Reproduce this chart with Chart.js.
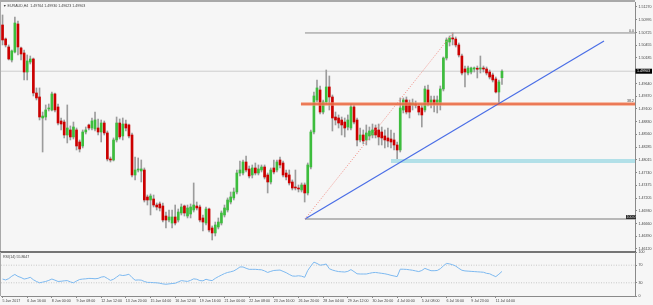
<!DOCTYPE html>
<html><head><meta charset="utf-8">
<script src="https://cdn.jsdelivr.net/npm/chart.js@4.4.1/dist/chart.umd.min.js"></script>
<style>
html,body{margin:0;padding:0;background:#f6f6f6;}
#wrap{position:relative;width:653px;height:305px;overflow:hidden;background:#f6f6f6;}
#main{position:absolute;left:0;top:0;width:653px;height:253px;}
#rsi{position:absolute;left:0;top:247px;width:653px;height:58px;}
</style></head><body>
<div id="wrap"><canvas id="main" width="653" height="253"></canvas><canvas id="rsi" width="653" height="58"></canvas></div>
<script>
// ---------- DATA (EURAUD, H4) ----------
const opens = [
1.50887,1.50589,1.50419,1.50142,1.50312,1.50908,1.50398,1.50291,1.49886,1.50099,
1.50163,1.49440,1.49355,1.48908,1.48929,1.49099,1.49078,1.49419,1.49142,1.48844,
1.48822,1.48546,1.48653,1.48504,1.48653,1.48397,1.48312,1.48610,1.48759,1.48695,
1.48674,1.48695,1.48610,1.48801,1.48589,1.48035,1.48014,1.48440,1.48801,1.48525,
1.48780,1.48759,1.48546,1.47695,1.47801,1.47780,1.47801,1.47227,1.47163,1.47184,
1.47056,1.47078,1.47035,1.46822,1.46737,1.46673,1.46801,1.46737,1.46886,1.47035,
1.46822,1.46865,1.46950,1.47035,1.47014,1.46780,1.46673,1.46971,1.46567,1.46461,
1.46588,1.46673,1.46844,1.46950,1.47120,1.47206,1.47333,1.47737,1.47737,1.47971,
1.47823,1.47695,1.47844,1.47737,1.47801,1.47865,1.47695,1.47546,1.47844,1.47801,
1.48014,1.47950,1.47737,1.47695,1.47546,1.47439,1.47418,1.47376,1.47482,1.47312,
1.47865,1.48610,1.49291,1.49504,1.49035,1.49248,1.49568,1.49355,1.48929,1.48908,
1.48865,1.48822,1.48716,1.48695,1.49142,1.48865,1.48440,1.48546,1.48440,1.48525,
1.48546,1.48695,1.48653,1.48610,1.48525,1.48483,1.48461,1.48440,1.48333,1.48227,
1.49078,1.49291,1.49227,1.49185,1.49185,1.49163,1.49121,1.49078,1.49504,1.49227,
1.49291,1.49206,1.49227,1.49525,1.50184,1.50525,1.50611,1.50589,1.50462,1.50227,
1.49951,1.49865,1.49886,1.49951,1.49951,1.49951,1.49956,1.49951,1.49886,1.49823,
1.49738,1.49461,1.49764];
const highs = [
1.51100,1.50611,1.50462,1.50355,1.51057,1.50972,1.50419,1.50355,1.50249,1.50227,
1.50184,1.49547,1.49547,1.49035,1.49185,1.49206,1.49461,1.49440,1.49206,1.48908,
1.48865,1.49185,1.48738,1.48822,1.48695,1.48440,1.48653,1.48716,1.48780,1.48908,
1.49035,1.48887,1.48865,1.48844,1.48631,1.48078,1.48483,1.48929,1.48887,1.48908,
1.48865,1.48780,1.48589,1.48078,1.48057,1.48014,1.47844,1.47269,1.47291,1.47269,
1.47099,1.47120,1.47099,1.46907,1.46950,1.46950,1.47056,1.46971,1.47078,1.47056,
1.47056,1.47078,1.47525,1.47120,1.47056,1.46844,1.47014,1.46993,1.46610,1.46694,
1.46780,1.46929,1.47056,1.47206,1.47333,1.47418,1.47801,1.47993,1.48014,1.48099,
1.47886,1.47908,1.47950,1.47908,1.47908,1.47908,1.47737,1.47844,1.48014,1.48014,
1.48078,1.47993,1.47801,1.47801,1.47589,1.47801,1.47482,1.47525,1.47525,1.47950,
1.48653,1.49461,1.49717,1.49589,1.49291,1.49929,1.49802,1.49397,1.49035,1.48972,
1.48929,1.48908,1.48972,1.49206,1.49185,1.48908,1.48695,1.48653,1.48759,1.48716,
1.48780,1.48759,1.48780,1.48716,1.48653,1.48695,1.48653,1.48589,1.48397,1.49334,
1.49334,1.49355,1.49291,1.49312,1.49270,1.49206,1.49185,1.49589,1.49610,1.49376,
1.49376,1.49376,1.49589,1.50206,1.50611,1.50653,1.50717,1.50632,1.50504,1.50270,
1.50014,1.50014,1.49993,1.49993,1.50014,1.50227,1.50014,1.49993,1.49929,1.49865,
1.49780,1.49717,1.49930];
const lows = [
1.50462,1.50419,1.50142,1.50099,1.50291,1.50249,1.50142,1.49717,1.49717,1.50057,
1.49376,1.49291,1.48865,1.48184,1.48865,1.49057,1.49057,1.49035,1.48759,1.48653,
1.48483,1.48376,1.48440,1.48461,1.48227,1.48184,1.48270,1.48568,1.48653,1.48653,
1.48631,1.48546,1.48397,1.48546,1.47993,1.47971,1.47993,1.48397,1.48461,1.48440,
1.48631,1.48483,1.47652,1.47589,1.47759,1.47546,1.47120,1.47056,1.46844,1.47014,
1.46950,1.46929,1.46694,1.46567,1.46694,1.46567,1.46631,1.46694,1.46844,1.46822,
1.46780,1.46780,1.46907,1.46950,1.46694,1.46503,1.46631,1.46482,1.46312,1.46397,
1.46546,1.46631,1.46801,1.46907,1.47078,1.47163,1.47291,1.47674,1.47695,1.47759,
1.47631,1.47631,1.47695,1.47695,1.47759,1.47610,1.47312,1.47503,1.47716,1.47759,
1.47844,1.47652,1.47589,1.47482,1.47376,1.47376,1.47333,1.47333,1.47120,1.47269,
1.47823,1.48568,1.49248,1.48993,1.48993,1.49206,1.49078,1.48631,1.48759,1.48695,
1.48546,1.48504,1.48653,1.48653,1.48780,1.48312,1.48397,1.48355,1.48333,1.48440,
1.48483,1.48483,1.48333,1.48333,1.48270,1.48291,1.48270,1.48227,1.47971,1.48184,
1.49014,1.48993,1.48908,1.49078,1.49121,1.48972,1.48716,1.49035,1.49163,1.49121,
1.49035,1.49014,1.49078,1.49483,1.50142,1.50440,1.50462,1.50419,1.50206,1.49823,
1.49568,1.49823,1.49844,1.49886,1.49759,1.49865,1.49886,1.49823,1.49738,1.49674,
1.49440,1.49227,1.49623];
const closes = [
1.50568,1.50462,1.50163,1.50334,1.50929,1.50419,1.50270,1.49886,1.50121,1.50163,
1.49440,1.49334,1.48929,1.48950,1.49078,1.49121,1.49419,1.49078,1.48801,1.48780,
1.48546,1.48695,1.48504,1.48716,1.48312,1.48248,1.48610,1.48653,1.48695,1.48844,
1.48865,1.48610,1.48801,1.48589,1.48035,1.48014,1.48440,1.48801,1.48504,1.48780,
1.48695,1.48525,1.47695,1.47801,1.47823,1.47823,1.47163,1.47163,1.47248,1.47056,
1.47014,1.46993,1.46737,1.46737,1.46801,1.46801,1.46673,1.46907,1.47014,1.46886,
1.46993,1.47014,1.47056,1.46993,1.46737,1.46694,1.46971,1.46525,1.46461,1.46631,
1.46694,1.46886,1.46993,1.47163,1.47227,1.47333,1.47737,1.47801,1.47971,1.47801,
1.47674,1.47844,1.47737,1.47823,1.47865,1.47652,1.47546,1.47801,1.47759,1.47971,
1.47908,1.47695,1.47652,1.47525,1.47418,1.47418,1.47397,1.47482,1.47312,1.47908,
1.48610,1.49376,1.49547,1.49035,1.49248,1.49568,1.49355,1.48908,1.48865,1.48801,
1.48759,1.48695,1.48865,1.49142,1.48822,1.48440,1.48546,1.48419,1.48589,1.48631,
1.48653,1.48546,1.48504,1.48483,1.48440,1.48419,1.48397,1.48333,1.48227,1.49121,
1.49291,1.49035,1.49035,1.49227,1.49180,1.49035,1.48972,1.49525,1.49227,1.49291,
1.49206,1.49291,1.49525,1.50184,1.50568,1.50611,1.50589,1.50462,1.50249,1.49865,
1.49886,1.49972,1.49972,1.49955,1.49946,1.49956,1.49950,1.49865,1.49780,1.49717,
1.49461,1.49674,1.49903];
const rsiValues = [
38.5,36.5,39.5,45,49,44.5,42,38.5,40,42.5,
37,33,30,31.5,33,35.5,38.6,36,33,33.5,
34.5,35,32,30,34,37.5,38.5,39,40,39.8,
39.2,40,43,44,40,35.5,38,43,48,46.5,
47.5,49.5,42,36,36.5,36,33,31,30.8,30.3,
30,29,27.5,26.7,27.5,28.3,29,32,35,34,
33.2,35.5,39,38,35,34.5,38,36,35,40,
44,47.5,51,53.5,55,57,61,66,66,63,
60.6,60.6,60.6,60,59.5,57,53.5,56,58,58.5,
59,56,53,49,45.5,45,46,45,42.5,58,
68,77,74,70,71,72.7,62,59,57,55.5,
55,54.5,56,60,55.5,50.5,50,50,50,51.5,
53,53.5,52.5,51.5,50.5,49,47,45.5,44,61,
60.8,60.5,59.5,58.5,57,55.5,58,62.8,60,57.5,
57.5,58,62,68.5,74,73,71,68,63,58.5,
57,56.5,56,55.5,55,54.5,54,51.5,50.5,47,
44,49.5,55.86];
const timeTickIdx = [0,8,16,24,32,40,48,56,64,72,80,88,96,104,112,120,128,136,144,152,160];
const timeLabels = ["5 Jun 2017","6 Jun 16:00","8 Jun 00:00","9 Jun 08:00","12 Jun 12:00","13 Jun 20:00",
  "15 Jun 04:00","16 Jun 12:00","19 Jun 16:00","21 Jun 00:00","22 Jun 08:00","23 Jun 16:00",
  "26 Jun 20:00","28 Jun 04:00","29 Jun 12:00","30 Jun 20:00","4 Jul 00:00","5 Jul 08:00",
  "6 Jul 16:00","9 Jul 23:00","11 Jul 04:00"];
const priceTicks = [1.51270,1.50995,1.50725,1.50455,1.50185,1.49640,1.49370,1.49100,1.48830,1.48560,
  1.48285,1.48015,1.47740,1.47475,1.47205,1.46930,1.46660,1.46390,1.46120];
const rsiTicks = [0,30,70,100];
const rsiLevels = [30,70];
// drawn objects (bar index / price)
const fibLevels = [1.50717, 1.49205, 1.46758];   // 0.0, 38.2, 100.0
const fibStartIdx = 98.1;
const fib382StartIdx = 96.8;
const supportLevel = 1.47993;
const supportStartIdx = 126.0;
const trendFrom = {x: 98.1, y: 1.46758};
const trendTo = {x: 195.1, y: 1.50546};
const fibDiagTo = {x: 146.1, y: 1.50717};
const titleText = "\u25BC EURAUD,H4  1.49764 1.49930 1.49623 1.49903";
const rsiTitle = "RSI(14) 55.8647";

// ---------- RENDER ----------
const FONT = "'Liberation Sans', Arial, sans-serif";
const TXT = '#404040';
const X_MIN = -0.5, X_MAX = 205.15;
const Y_MIN = 1.46056, Y_MAX = 1.51376;
const last = closes.length - 1;
const idx = opens.map((_, i) => i);
const bodyColors = idx.map(i => closes[i] >= opens[i] ? '#3dbd3d' : '#cc0000');

function seg(a, b, extra) {
  return Object.assign({type:'line', data:[a,b], pointRadius:0, borderWidth:1, fill:false, tension:0}, extra);
}

const mainDecor = {
  id:'mainDecor',
  afterDraw(chart){
    const {ctx, chartArea:a, scales:{y}} = chart;
    ctx.save();
    ctx.strokeStyle='#a9a9a9'; ctx.lineWidth=2;
    ctx.beginPath(); ctx.moveTo(0,1); ctx.lineTo(a.right,1); ctx.stroke();
    ctx.lineWidth=1;
    ctx.beginPath(); ctx.moveTo(0.5,0); ctx.lineTo(0.5,a.bottom); ctx.stroke();
    ctx.strokeStyle='#4a4a4a'; ctx.lineWidth=1.5;
    ctx.beginPath(); ctx.moveTo(0,a.bottom); ctx.lineTo(a.right+1,a.bottom); ctx.stroke();
    ctx.font = '3.6px ' + FONT; ctx.fillStyle = TXT;
    ctx.textBaseline='middle'; ctx.textAlign='left';
    ctx.fillText(titleText, 3, 5.5);
    ctx.textAlign='right'; ctx.textBaseline='bottom';
    ctx.fillText('0.0', a.right-1, y.getPixelForValue(fibLevels[0]) - 0.3);
    ctx.fillText('38.2', a.right-1, y.getPixelForValue(fibLevels[1]) - 1.3);
    const y100 = y.getPixelForValue(fibLevels[2]);
    ctx.fillStyle='#2e2e2e'; ctx.fillRect(a.right-9, y100-4, 10, 4);
    ctx.fillStyle='#d0d0d0'; ctx.textBaseline='middle'; ctx.textAlign='center';
    ctx.fillText('100.0', a.right-4, y100-2);
    const yp = y.getPixelForValue(closes[last]);
    ctx.fillStyle='#000'; ctx.fillRect(a.right+0.5, yp-2.5, 16.5, 5);
    ctx.fillStyle='#fff'; ctx.textAlign='left';
    ctx.fillText(closes[last].toFixed(5), a.right+2, yp);
    ctx.restore();
  }
};

new Chart(document.getElementById('main'), {
  type:'bar',
  data:{ datasets:[
    {type:'bar', data: idx.map(i => ({x:i, y:[opens[i], closes[i]]})), backgroundColor: bodyColors,
      barThickness:2, minBarLength:1, grouped:false, borderWidth:0, order:2},
    {type:'bar', data: idx.map(i => ({x:i, y:[lows[i], highs[i]]})), backgroundColor:'#9c9c9c',
      barThickness:1, grouped:false, borderWidth:0, order:3},
    seg({x:X_MIN, y:closes[last]}, {x:X_MAX, y:closes[last]}, {borderColor:'#cdcdcd', order:4}),
    seg({x:fibStartIdx, y:fibLevels[0]}, {x:X_MAX, y:fibLevels[0]}, {borderColor:'#8a8a8a', order:1}),
    seg({x:fibStartIdx, y:fibLevels[2]}, {x:X_MAX, y:fibLevels[2]}, {borderColor:'#7a7a7a', order:1}),
    seg({x:fib382StartIdx, y:fibLevels[1]}, {x:X_MAX, y:fibLevels[1]}, {borderColor:'rgba(246,150,115,0.8)', borderWidth:3.6, order:1}),
    seg({x:fib382StartIdx, y:fibLevels[1]}, {x:X_MAX, y:fibLevels[1]}, {borderColor:'#e04a22', borderWidth:1, order:0}),
    seg({x:supportStartIdx, y:supportLevel}, {x:X_MAX, y:supportLevel}, {borderColor:'#b2e0e8', borderWidth:4, order:1}),
    seg(trendFrom, fibDiagTo, {borderColor:'#f08a80', borderDash:[1,1.6], order:0}),
    seg(trendFrom, trendTo, {borderColor:'#4a6ee6', borderWidth:1.2, order:0})
  ]},
  options:{
    responsive:false, animation:false, devicePixelRatio:1,
    layout:{padding:{left:1, top:2, right:0, bottom:1}},
    plugins:{legend:{display:false}, tooltip:{enabled:false}},
    scales:{
      x:{type:'linear', min:X_MIN, max:X_MAX, display:false, offset:false},
      y:{type:'linear', position:'right', min:Y_MIN, max:Y_MAX,
        afterBuildTicks: s => { s.ticks = priceTicks.map(v => ({value:v})); },
        afterFit: s => { s.width = 18; s.paddingTop = 0; s.paddingBottom = 0; },
        ticks:{autoSkip:false, padding:1.5, color:TXT, font:{family:FONT, size:3.6}, callback: v => Number(v).toFixed(5)},
        grid:{drawOnChartArea:false, tickLength:2, color:'#8a8a8a'},
        border:{color:'#8a8a8a', width:1}
      }
    }
  },
  plugins:[mainDecor]
});

const rsiDecor = {
  id:'rsiDecor',
  beforeDatasetsDraw(chart){
    const {ctx, chartArea:a, scales:{y}} = chart;
    ctx.save();
    ctx.strokeStyle='#bdbdbd'; ctx.lineWidth=0.8; ctx.setLineDash([1,1.5]);
    rsiLevels.forEach(v => {
      const py = y.getPixelForValue(v);
      ctx.beginPath(); ctx.moveTo(a.left, py); ctx.lineTo(a.right, py); ctx.stroke();
    });
    ctx.restore();
  },
  afterDraw(chart){
    const {ctx, chartArea:a} = chart;
    ctx.save();
    ctx.strokeStyle='#a9a9a9'; ctx.lineWidth=1;
    ctx.beginPath(); ctx.moveTo(0.5,a.top); ctx.lineTo(0.5,a.bottom); ctx.stroke();
    ctx.font='3.6px ' + FONT; ctx.fillStyle=TXT; ctx.textAlign='left'; ctx.textBaseline='middle';
    ctx.fillText(rsiTitle, 3, a.top + 4.5);
    ctx.restore();
  }
};

new Chart(document.getElementById('rsi'), {
  type:'line',
  data:{ datasets:[{ data: idx.map(i => ({x:i, y:rsiValues[i]})), borderColor:'#7db9f0', borderWidth:1,
    pointRadius:0, tension:0, fill:false }]},
  options:{
    responsive:false, animation:false, devicePixelRatio:1,
    layout:{padding:{left:1, top:5, right:0, bottom:0}},
    plugins:{legend:{display:false}, tooltip:{enabled:false}},
    scales:{
      x:{type:'linear', min:X_MIN, max:X_MAX, offset:false,
        afterBuildTicks: s => { s.ticks = timeTickIdx.map(v => ({value:v})); },
        afterFit: s => { s.height = 9; s.paddingLeft = 0; s.paddingRight = 0; },
        ticks:{autoSkip:false, maxRotation:0, minRotation:0, align:'start', padding:1.2, color:TXT,
          font:{family:FONT, size:3.6}, callback:(v, i) => timeLabels[i]},
        grid:{drawOnChartArea:false, tickLength:2, color:'#8a8a8a'},
        border:{color:'#8a8a8a', width:1}
      },
      y:{type:'linear', position:'right', min:0, max:100,
        afterBuildTicks: s => { s.ticks = rsiTicks.map(v => ({value:v})); },
        afterFit: s => { s.width = 18; s.paddingTop = 0; s.paddingBottom = 0; },
        ticks:{autoSkip:false, padding:1.5, color:TXT, font:{family:FONT, size:3.6}},
        grid:{drawOnChartArea:false, tickLength:2, color:'#8a8a8a'},
        border:{color:'#8a8a8a', width:1}
      }
    }
  },
  plugins:[rsiDecor]
});
</script>
</body></html>
